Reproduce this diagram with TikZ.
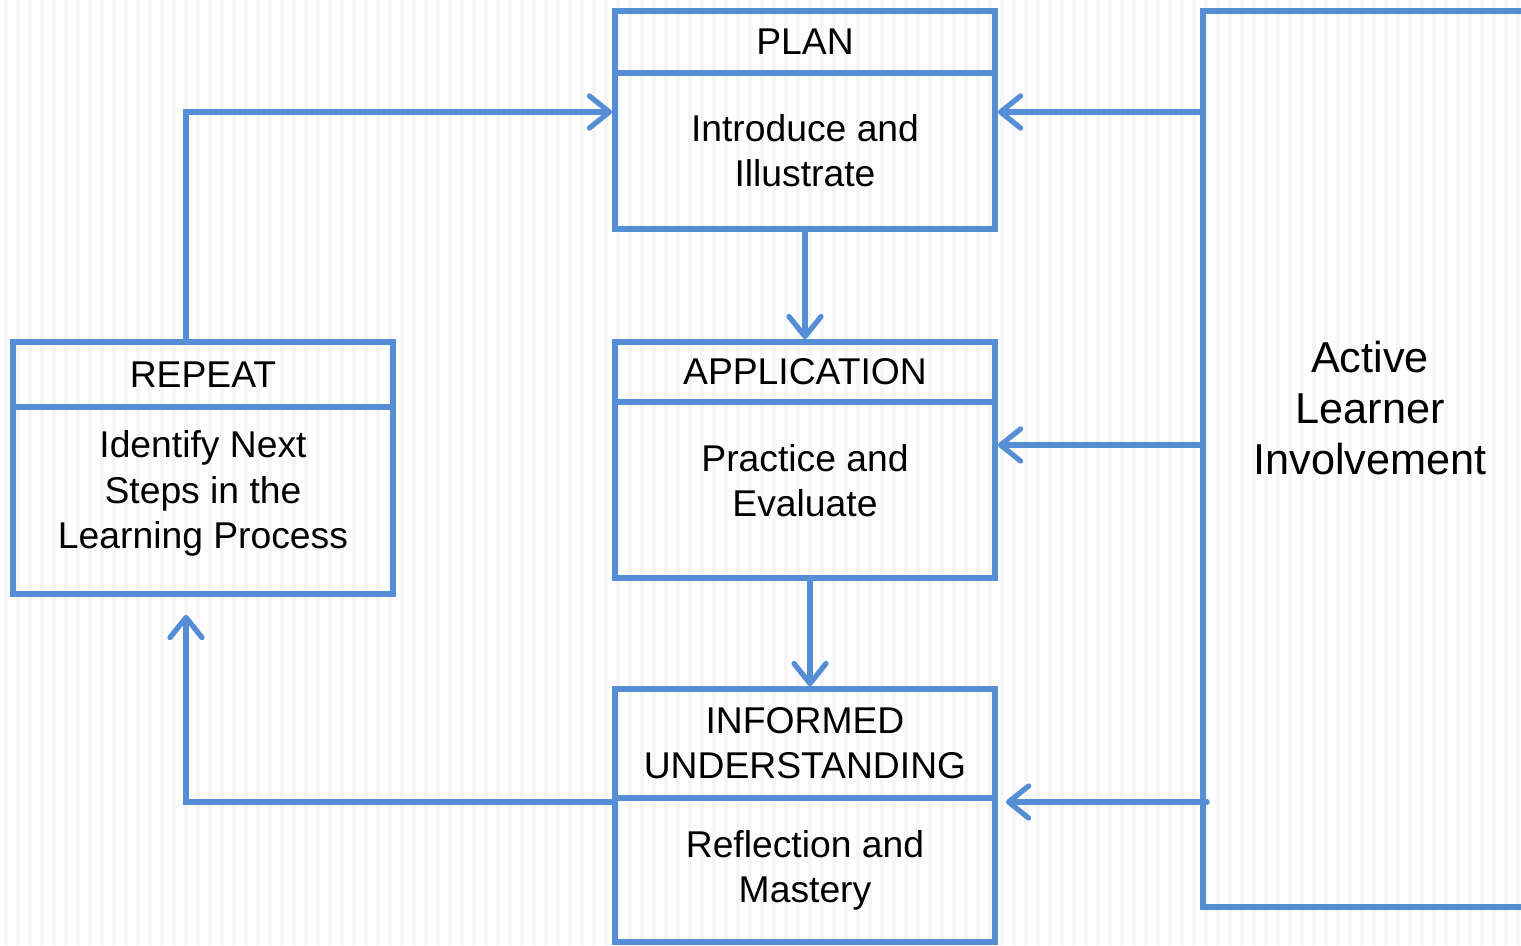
\documentclass[tikz,border=0pt]{standalone}
\usepackage{fontspec}
\setmainfont{Liberation Sans}
\usetikzlibrary{arrows.meta}
\definecolor{boxblue}{RGB}{85,142,213}

\begin{document}
\begin{tikzpicture}[x=0.01cm, y=-0.01cm,
	box/.style={draw=boxblue, line width=1.6pt, rectangle, inner sep=0pt, minimum width=3.8cm, align=center, font=\fontsize{10.6}{12.8}\selectfont},
	link/.style={draw=boxblue, line width=1.5pt, line cap=round, arrows={-{Straight Barb[length=0.2cm, width=0.32cm, round]}}}]
	\clip (0,0) rectangle (1521,945);
	\fill [white] (0,0) rectangle (1521,945);
	\foreach \x in {4,16,...,1521}
		\fill [gray!8] (\x,0) rectangle ++(4,945);

	\node [box, minimum height=0.62cm] (plan) at (805,42) {PLAN};
	\node [box, minimum height=1.56cm] (intro) at (805,151) {Introduce and\\Illustrate};
	\node [box, minimum height=0.60cm] (apphead) at (805,372) {APPLICATION};
	\node [box, minimum height=1.76cm, text depth=0.2cm] (practice) at (805,490) {Practice and\\Evaluate};
	\node [box, minimum height=1.09cm] (informedhead) at (805,743.5) {INFORMED\\UNDERSTANDING};
	\node [box, minimum height=1.44cm] (reflection) at (805,870) {Reflection and\\Mastery};
	\node [box, minimum height=0.65cm] (repeathead) at (203,374.5) {REPEAT};
	\node [box, minimum height=1.87cm, text depth=0.22cm] (identify) at (203,500.5) {Identify Next\\Steps in the\\Learning Process};
	\node [box, minimum width=3.4cm, minimum height=8.96cm] (active) at (1373,459) {};
	\node [align=center, font=\fontsize{12.3}{14.5}\selectfont] (activetext) at (1370,408) {Active\\Learner\\Involvement};

	\coordinate (bend) at (186,112);
	\coordinate (corner) at (186,802);
	\draw [link] (repeathead.north -| bend) -- (bend) -- (intro.west |- bend);
	\draw [link] (active.west |- bend) -- (intro.east |- bend);
	\draw [link] (active.west |- 0,445) -- (practice.east |- 0,445);
	\draw [link, shorten >=0.08cm] ([xshift=0.07cm]active.west |- corner) -- (reflection.east |- corner);
	\draw [link] (intro) -- (apphead);
	\draw [link] ([xshift=0.05cm]practice.south) -- ([xshift=0.05cm]informedhead.north);
	\draw [link, shorten >=0.18cm] (reflection.west |- corner) -- (corner) -- (identify.south -| corner);
\end{tikzpicture}
\end{document}
